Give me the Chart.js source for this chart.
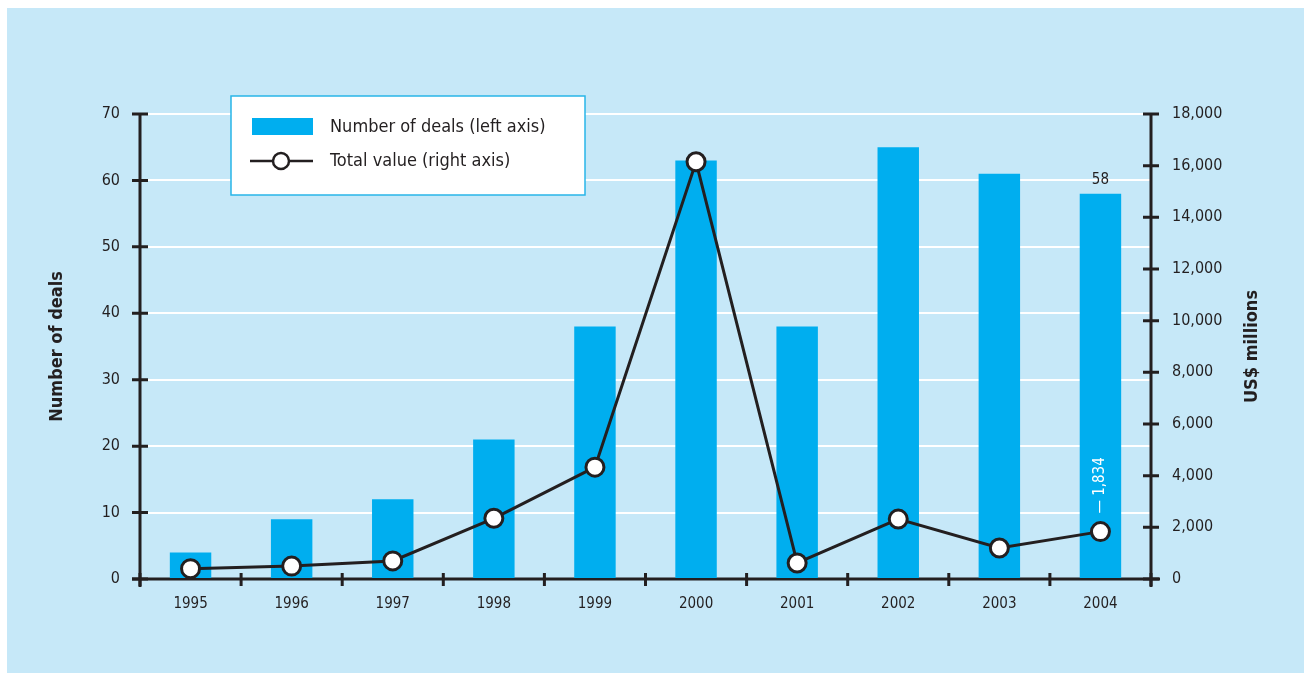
<!DOCTYPE html>
<html>
<head>
<meta charset="utf-8">
<script src="https://cdn.jsdelivr.net/npm/chart.js@4/dist/chart.umd.min.js"></script>
<style>
  html, body { margin: 0; padding: 0; background: #ffffff; }
  #painel {
    position: absolute; left: 7px; top: 8px;
    width: 1297px; height: 665px;
    background: #c6e8f8;
  }
</style>
</head>
<body>
<div id="painel"><canvas id="grafico" width="1297" height="665"></canvas></div>
<script>
// Dados
const anos = ['1995', '1996', '1997', '1998', '1999', '2000', '2001', '2002', '2003', '2004'];
const numeroNegocios = [4, 9, 12, 21, 38, 63, 38, 65, 61, 58];
const valorTotal = [400, 500, 700, 2350, 4330, 16150, 620, 2320, 1200, 1834];
const ticksEsquerda = [0, 10, 20, 30, 40, 50, 60, 70];
const ticksDireita = [0, 2000, 4000, 6000, 8000, 10000, 12000, 14000, 16000, 18000];

const FONTE = "'Liberation Sans Narrow', 'DejaVu Sans Condensed', 'Roboto', sans-serif";
const ESCURO = '#231f20';
const AZUL = '#00aeef';

// Eixos com marcas cruzadas, desenhados a partir das escalas
const eixosPlugin = {
  id: 'eixos',
  beforeDatasetsDraw(chart) {
    const { ctx, chartArea: a, scales } = chart;
    ctx.save();
    ctx.strokeStyle = ESCURO;
    ctx.lineWidth = 3;
    ctx.lineCap = 'butt';
    // linhas dos eixos
    ctx.beginPath();
    ctx.moveTo(a.left, a.top); ctx.lineTo(a.left, a.bottom + 8);
    ctx.moveTo(a.right, a.top); ctx.lineTo(a.right, a.bottom + 8);
    ctx.moveTo(a.left - 8, a.bottom); ctx.lineTo(a.right + 9, a.bottom);
    ctx.stroke();
    // marcas dos eixos
    ctx.beginPath();
    ticksEsquerda.forEach(v => {
      const y = scales.y.getPixelForValue(v);
      ctx.moveTo(a.left - 8, y); ctx.lineTo(a.left + 8, y);
    });
    ticksDireita.forEach(v => {
      const y = scales.y2.getPixelForValue(v);
      ctx.moveTo(a.right - 8, y); ctx.lineTo(a.right + 8, y);
    });
    const passo = (scales.x.right - scales.x.left) / anos.length;
    for (let i = 0; i <= anos.length; i++) {
      const x = scales.x.left + i * passo;
      ctx.moveTo(x, a.bottom - 6); ctx.lineTo(x, a.bottom + 7);
    }
    ctx.stroke();

    // título do eixo direito, lido de baixo para cima
    ctx.save();
    ctx.translate(1245, (a.top + a.bottom) / 2);
    ctx.rotate(-Math.PI / 2);
    ctx.fillStyle = ESCURO;
    ctx.font = 'bold 18px ' + FONTE;
    ctx.textAlign = 'center';
    ctx.textBaseline = 'middle';
    ctx.fillText('US$ millions', 0, 0);
    ctx.restore();
    ctx.restore();
  },
  afterDraw(chart) {
    const { ctx } = chart;
    ctx.save();
    // rótulo 58 sobre a última barra
    const barras = chart.getDatasetMeta(0).data;
    const ultima = barras[barras.length - 1];
    ctx.fillStyle = ESCURO;
    ctx.font = '15px ' + FONTE;
    ctx.textAlign = 'center';
    ctx.textBaseline = 'bottom';
    ctx.fillText(String(numeroNegocios[numeroNegocios.length - 1]), ultima.x, ultima.y - 6);
    // rótulo 1,834 vertical
    const pontos = chart.getDatasetMeta(1).data;
    const p = pontos[pontos.length - 1];
    ctx.translate(p.x, p.y - 18);
    ctx.rotate(-Math.PI / 2);
    ctx.fillStyle = '#ffffff';
    ctx.textAlign = 'left';
    ctx.textBaseline = 'middle';
    ctx.fillText('\u2014 ' + valorTotal[valorTotal.length - 1].toLocaleString('en-US'), 0, 0);
    ctx.restore();

    // legenda em caixa branca
    ctx.save();
    const lx = 224, ly = 88, lw = 354, lh = 99;
    ctx.fillStyle = '#ffffff';
    ctx.fillRect(lx, ly, lw, lh);
    ctx.strokeStyle = '#29b5e8';
    ctx.lineWidth = 1.5;
    ctx.strokeRect(lx, ly, lw, lh);
    ctx.fillStyle = AZUL;
    ctx.fillRect(245, 110, 61, 17);
    ctx.strokeStyle = ESCURO;
    ctx.lineWidth = 2.5;
    ctx.beginPath();
    ctx.moveTo(243, 153); ctx.lineTo(306, 153);
    ctx.stroke();
    ctx.beginPath();
    ctx.arc(274, 153, 8, 0, Math.PI * 2);
    ctx.fillStyle = '#ffffff';
    ctx.fill();
    ctx.stroke();
    ctx.fillStyle = ESCURO;
    ctx.font = '18px ' + FONTE;
    ctx.textAlign = 'left';
    ctx.textBaseline = 'middle';
    ctx.fillText('Number of deals (left axis)', 323, 119);
    ctx.fillText('Total value (right axis)', 323, 153);
    ctx.restore();
  }
};

const ctx = document.getElementById('grafico').getContext('2d');
const grafico = new Chart(ctx, {
  data: {
    labels: anos,
    datasets: [
      {
        type: 'bar',
        label: 'Number of deals (left axis)',
        data: numeroNegocios,
        backgroundColor: AZUL,
        borderWidth: 0,
        barPercentage: 0.41,
        categoryPercentage: 1,
        yAxisID: 'y',
        order: 2
      },
      {
        type: 'line',
        label: 'Total value (right axis)',
        data: valorTotal,
        borderColor: ESCURO,
        borderWidth: 3,
        pointRadius: 9,
        pointBorderWidth: 3,
        pointBackgroundColor: '#ffffff',
        pointBorderColor: ESCURO,
        tension: 0,
        yAxisID: 'y2',
        order: 1
      }
    ]
  },
  options: {
    responsive: false,
    animation: false,
    layout: { padding: { top: 106, left: 0, right: 0, bottom: 0 } },
    plugins: {
      legend: { display: false },
      tooltip: { enabled: false }
    },
    scales: {
      x: {
        offset: true,
        grid: { display: false, drawTicks: false },
        border: { display: false },
        ticks: { color: ESCURO, font: { family: FONTE, size: 15 }, padding: 16 },
        afterFit(s) { s.height = 94; }
      },
      y: {
        position: 'left',
        min: 0, max: 70,
        afterBuildTicks(s) { s.ticks = ticksEsquerda.map(v => ({ value: v })); },
        grid: { color: '#ffffff', lineWidth: 2, drawTicks: false },
        border: { display: false },
        ticks: { color: ESCURO, font: { family: FONTE, size: 16 }, padding: 20 },
        title: {
          display: true, text: 'Number of deals', color: ESCURO,
          font: { family: FONTE, size: 18, weight: 'bold' },
          padding: { top: 40, bottom: 0 }
        },
        afterFit(s) { s.width = 133; }
      },
      y2: {
        position: 'right',
        min: 0, max: 18000,
        afterBuildTicks(s) { s.ticks = ticksDireita.map(v => ({ value: v })); },
        grid: { display: false, drawTicks: false },
        border: { display: false },
        ticks: {
          color: ESCURO, font: { family: FONTE, size: 16 }, padding: 21,
          callback: v => v.toLocaleString('en-US')
        },
        afterFit(s) { s.width = 153; }
      }
    }
  },
  plugins: [eixosPlugin]
});
</script>
</body>
</html>
